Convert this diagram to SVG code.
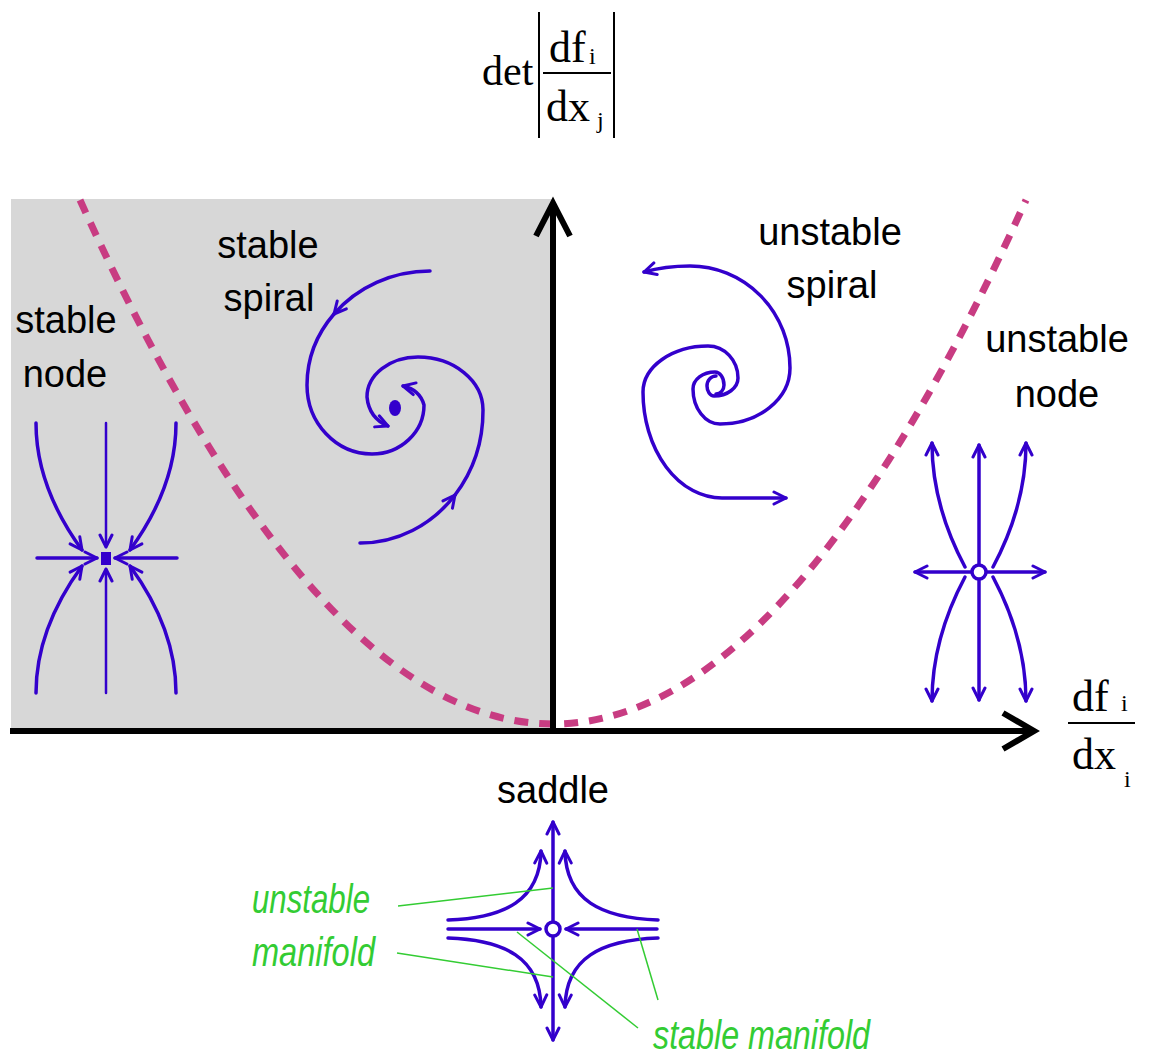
<svg xmlns="http://www.w3.org/2000/svg" width="1152" height="1055" viewBox="0 0 1152 1055">
<defs>
<style>
.lbl{font-family:"Liberation Sans",Arial,sans-serif;font-size:38px;fill:#000;text-anchor:middle}
.math{font-family:"Liberation Serif","Times New Roman",serif;fill:#000}
.grn{font-family:"Liberation Sans",Arial,sans-serif;font-style:italic;font-size:40px;fill:#33cc33}
.blue{fill:none;stroke:#3300cc;stroke-width:3.5;stroke-linecap:round;stroke-linejoin:round}
.thin{stroke-width:2.5}
.arr{marker-end:url(#ah)}
.lead{fill:none;stroke:#33cc33;stroke-width:1.5}
.axis{fill:none;stroke:#000;stroke-width:6}
</style>
<marker id="ah" markerUnits="userSpaceOnUse" viewBox="0 0 16 16" refX="14" refY="8" markerWidth="16" markerHeight="16" orient="auto"><path d="M2,2 L14,8 L2,14" fill="none" stroke="#3300cc" stroke-width="3" stroke-linecap="round" stroke-linejoin="round"/></marker>
</defs>
<rect width="1152" height="1055" fill="#fff"/>
<g id="stable-region"><rect x="11" y="199" width="542" height="532" fill="#d7d7d7"/></g>
<g id="boundary"><path d="M80,200 Q553,1248 1026,200" fill="none" stroke="#c83c82" stroke-width="7" stroke-dasharray="14 11"/></g>
<g id="axes">
<path class="axis" d="M10,731 L1031,731"/>
<path class="axis" d="M1003,713 L1034,731 L1003,749"/>
<path class="axis" d="M553,731 L553,205"/>
<path class="axis" d="M536,236 L553,203 L570,236"/>
</g>
<g id="det-label">
<text class="math" x="482" y="85" font-size="42">det</text>
<line x1="539" y1="12" x2="539" y2="138" stroke="#000" stroke-width="2"/>
<line x1="614" y1="12" x2="614" y2="138" stroke="#000" stroke-width="2"/>
<line x1="543" y1="73" x2="611" y2="73" stroke="#000" stroke-width="2"/>
<text class="math" x="549" y="62" font-size="44">df</text>
<text class="math" x="589" y="64" font-size="24">i</text>
<text class="math" x="546" y="121" font-size="44">dx</text>
<text class="math" x="597" y="128" font-size="24">j</text>
</g>
<g id="trace-label">
<line x1="1068" y1="723" x2="1135" y2="723" stroke="#000" stroke-width="2"/>
<text class="math" x="1072" y="711" font-size="44">df</text>
<text class="math" x="1121" y="711" font-size="24">i</text>
<text class="math" x="1072" y="769" font-size="44">dx</text>
<text class="math" x="1124" y="787" font-size="24">i</text>
</g>
<g id="stable-node">
<text class="lbl" x="66" y="333">stable</text>
<text class="lbl" x="65" y="387">node</text>
<path class="blue thin arr" d="M106,423 L106,547"/>
<path class="blue thin arr" d="M106,693 L106,569"/>
<path class="blue arr" d="M37,558 L97,558"/>
<path class="blue arr" d="M177,558 L115,558"/>
<path class="blue arr" d="M36,423 Q36,487 82,550"/>
<path class="blue arr" d="M36,693 Q36,629 82,566"/>
<path class="blue arr" d="M176,423 Q176,487 130,550"/>
<path class="blue arr" d="M176,693 Q176,629 130,566"/>
<rect x="101" y="552" width="10" height="13" fill="#3300cc"/>
</g>
<g id="stable-spiral">
<text class="lbl" x="268" y="258">stable</text>
<text class="lbl" x="269" y="311">spiral</text>
<path class="blue arr" d="M430,271 A123,114 0 0 0 334,314"/>
<path class="blue arr" d="M334,314 A123,114 0 0 0 307,385 A65,69 0 0 0 372,454 A52,49 0 0 0 424,405 Q420,390 403,386"/>
<path class="blue arr" d="M360,543 A123,133 0 0 0 455,495"/>
<path class="blue arr" d="M455,495 A123,133 0 0 0 483,410 A65,53 0 0 0 418,357 A51,40 0 0 0 367,397 Q369,418 388,426"/>
<ellipse cx="395" cy="408" rx="6" ry="8" fill="#3300cc"/>
</g>
<g id="unstable-spiral">
<text class="lbl" x="830" y="245">unstable</text>
<text class="lbl" x="832" y="298">spiral</text>
<path class="blue arr" d="M716,376 A9,10 0 0 0 707,386 A7,10 0 0 0 714,396 A24,18 0 0 0 738,378 A30,32 0 0 0 708,346 A65,46 0 0 0 643,392 A79,106 0 0 0 722,498 L786,498"/>
<path class="blue arr" d="M716,394 A8,9 0 0 0 724,385 A9,13 0 0 0 715,372 A22,17 0 0 0 693,389 A27,35 0 0 0 720,424 A70,56 0 0 0 790,368 A100,102 0 0 0 690,266 Q665,266 644,272"/>
</g>
<g id="unstable-node">
<text class="lbl" x="1057" y="352">unstable</text>
<text class="lbl" x="1057" y="407">node</text>
<path class="blue arr" d="M979,565 L979,445"/>
<path class="blue arr" d="M979,579 L979,700"/>
<path class="blue arr" d="M972,572 L915,572"/>
<path class="blue arr" d="M986,572 L1045,572"/>
<path class="blue arr" d="M965,567 Q932,505 932,443"/>
<path class="blue arr" d="M965,577 Q932,639 932,701"/>
<path class="blue arr" d="M993,567 Q1026,505 1026,443"/>
<path class="blue arr" d="M993,577 Q1026,639 1026,701"/>
<circle cx="979" cy="572" r="7" fill="#fff" stroke="#3300cc" stroke-width="3.5"/>
</g>
<g id="saddle">
<text class="lbl" x="553" y="803">saddle</text>
<path class="blue arr" d="M553,922 L553,822"/>
<path class="blue arr" d="M553,936 L553,1040"/>
<path class="blue arr" d="M448,929 L540,929"/>
<path class="blue arr" d="M657,929 L566,929"/>
<path class="blue arr" d="M448,920 C505,918 540,900 541,851"/>
<path class="blue arr" d="M658,920 C601,918 566,900 565,851"/>
<path class="blue arr" d="M448,938 C505,940 540,958 541,1007"/>
<path class="blue arr" d="M658,938 C601,940 566,958 565,1007"/>
<circle cx="553" cy="929" r="7" fill="#fff" stroke="#3300cc" stroke-width="3.5"/>
</g>
<g id="connectors">
<path class="lead" d="M398,906 L553,888"/>
<path class="lead" d="M397,953 L553,977"/>
<path class="lead" d="M517,932 L638,1028"/>
<path class="lead" d="M637,929 L658,1000"/>
</g>
<g id="manifold-labels">
<text class="grn" x="252" y="913" textLength="118" lengthAdjust="spacingAndGlyphs">unstable</text>
<text class="grn" x="252" y="966" textLength="123" lengthAdjust="spacingAndGlyphs">manifold</text>
<text class="grn" x="653" y="1049" textLength="217" lengthAdjust="spacingAndGlyphs">stable manifold</text>
</g>
</svg>
